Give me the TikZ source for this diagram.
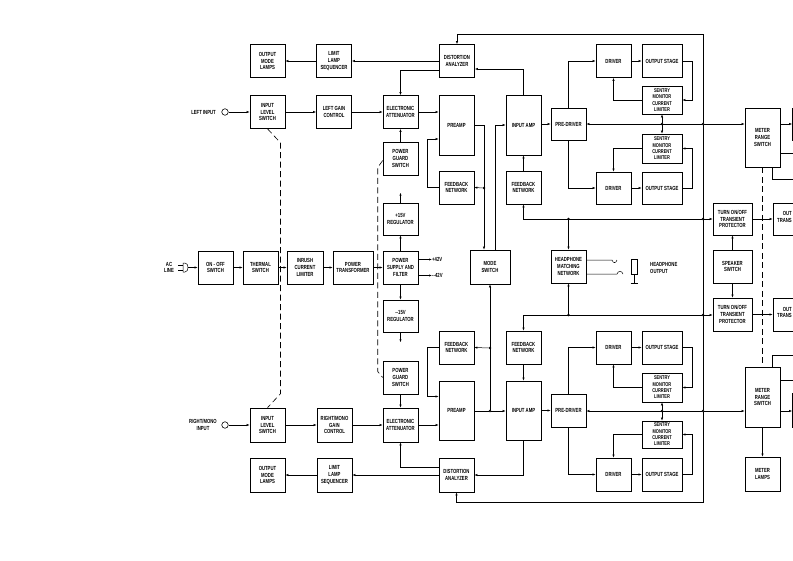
\documentclass[tikz,border=0pt]{standalone}
\usepackage{fontspec}
\newfontfamily\blkfont{Liberation Sans}[FakeStretch=0.72]
\usetikzlibrary{arrows.meta}
\tikzset{
  blk/.style={draw,line width=0.6pt,minimum width=35pt,minimum height=33pt,inner sep=0pt,align=center,
    font=\blkfont\bfseries\fontsize{5.9}{6.8}\selectfont},
  tallblk/.style={blk,minimum height=60pt},
  smblk/.style={blk,minimum width=40pt,minimum height=28pt,font=\blkfont\bfseries\fontsize{5.5}{6.3}\selectfont},
  lbl/.style={inner sep=0pt,align=center,font=\blkfont\bfseries\fontsize{5.9}{6.8}\selectfont},
  sig/.style={-{Latex[length=3pt,width=2.2pt]},line width=0.5pt},
  wire/.style={line width=0.5pt},
  link/.style={dash pattern=on 6pt off 3.5pt,line width=0.6pt},
  jn/.style={circle,fill=black,inner sep=0.9pt},
  jack/.style={circle,draw,line width=0.6pt,inner sep=0pt,minimum size=6.5pt}
}
\begin{document}
\begin{tikzpicture}[x=1pt,y=-1pt]
  \useasboundingbox (0,0) rectangle (793,560);
  \clip (0,0) rectangle (793,560);

  % left channel
  \node[blk] (lampsL) at (267.5,61) {OUTPUT\\MODE\\LAMPS};
  \node[blk] (seqL) at (334,61) {LIMIT\\LAMP\\SEQUENCER};
  \node[blk] (distL) at (457,61) {DISTORTION\\ANALYZER};
  \node[blk] (lvlL) at (267.5,112) {INPUT\\LEVEL\\SWITCH};
  \node[blk] (gainL) at (334,112) {LEFT GAIN\\CONTROL};
  \node[blk] (attL) at (400.5,112) {ELECTRONIC\\ATTENUATOR};
  \node[tallblk] (preL) at (456.5,125) {PREAMP};
  \node[tallblk] (ampL) at (523.5,125) {INPUT AMP};
  \node[blk,minimum height=32pt] (pdrL) at (568.5,124) {PRE-DRIVER};
  \node[blk] (drvA) at (613.5,61) {DRIVER};
  \node[blk,minimum width=40pt] (outA) at (662,61) {OUTPUT STAGE};
  \node[smblk] (sentA) at (662,100) {SENTRY\\MONITOR\\CURRENT\\LIMITER};
  \node[smblk,minimum height=29pt] (sentB) at (662,148.5) {SENTRY\\MONITOR\\CURRENT\\LIMITER};
  \node[blk,minimum height=32pt] (drvB) at (613.5,188) {DRIVER};
  \node[blk,minimum width=40pt,minimum height=32pt] (outB) at (662,188) {OUTPUT STAGE};
  \node[tallblk,minimum height=59pt] (mrsL) at (762.5,137.5) {METER\\RANGE\\SWITCH};
  \node[blk,minimum height=32pt] (nextL) at (810,124) {};
  \node[blk] (guardL) at (400.5,158.5) {POWER\\GUARD\\SWITCH};
  \node[blk] (fbL1) at (456.5,187.5) {FEEDBACK\\NETWORK};
  \node[blk] (fbL2) at (523.5,187.5) {FEEDBACK\\NETWORK};

  % power and centre
  \node[blk,minimum height=32pt] (regP) at (400.5,219) {+15V\\REGULATOR};
  \node[blk,minimum width=39pt,minimum height=32pt] (tpA) at (732.5,219) {TURN ON/OFF\\TRANSIENT\\PROTECTOR};
  \node[blk,minimum width=48pt,minimum height=32pt] (otA) at (797,219) {};
  \node[lbl,anchor=east,align=right] (otAtxt) at (792,217) {OUT\\TRANS};
  \node[blk] (onoff) at (215.5,267.5) {ON - OFF\\SWITCH};
  \node[blk] (therm) at (260.5,267.5) {THERMAL\\SWITCH};
  \node[blk,minimum width=36pt] (inrush) at (305,267.5) {INRUSH\\CURRENT\\LIMITER};
  \node[blk,minimum width=40pt] (xfmr) at (353,267.5) {POWER\\TRANSFORMER};
  \node[blk] (psu) at (400.5,267.5) {POWER\\SUPPLY AND\\FILTER};
  \node[blk,minimum width=40pt,minimum height=34pt] (mode) at (490,267) {MODE\\SWITCH};
  \node[blk] (hpn) at (568.5,266.5) {HEADPHONE\\MATCHING\\NETWORK};
  \node[blk,minimum width=39pt] (spk) at (732.5,266.5) {SPEAKER\\SWITCH};
  \node[blk,minimum height=32pt] (regN) at (400.5,316) {--15V\\REGULATOR};
  \node[blk,minimum width=39pt] (tpB) at (732.5,314.5) {TURN ON/OFF\\TRANSIENT\\PROTECTOR};
  \node[blk,minimum width=48pt] (otB) at (797,314.5) {};
  \node[lbl,anchor=east,align=right] (otBtxt) at (792,312.5) {OUT\\TRANS};

  % right channel
  \node[blk] (guardR) at (400.5,377.5) {POWER\\GUARD\\SWITCH};
  \node[blk] (fbR1) at (456.5,347.5) {FEEDBACK\\NETWORK};
  \node[blk] (fbR2) at (523.5,347.5) {FEEDBACK\\NETWORK};
  \node[blk] (drvC) at (613.5,347.5) {DRIVER};
  \node[blk,minimum width=40pt] (outC) at (662,347.5) {OUTPUT STAGE};
  \node[smblk,minimum height=29pt] (sentC) at (662,387.5) {SENTRY\\MONITOR\\CURRENT\\LIMITER};
  \node[tallblk] (mrsR) at (762.5,397) {METER\\RANGE\\SWITCH};
  \node[blk,minimum height=34pt] (nextR) at (810,410) {};
  \node[tallblk,minimum height=59pt] (preR) at (456.5,410.5) {PREAMP};
  \node[tallblk,minimum height=59pt] (ampR) at (523.5,410.5) {INPUT AMP};
  \node[blk] (pdrR) at (568.5,410.5) {PRE-DRIVER};
  \node[blk,minimum height=34pt] (lvlR) at (267.5,425) {INPUT\\LEVEL\\SWITCH};
  \node[blk,minimum height=34pt] (gainR) at (334.5,425) {RIGHT/MONO\\GAIN\\CONTROL};
  \node[blk,minimum height=34pt] (attR) at (400.5,425) {ELECTRONIC\\ATTENUATOR};
  \node[smblk,minimum height=27pt] (sentD) at (662,434.5) {SENTRY\\MONITOR\\CURRENT\\LIMITER};
  \node[blk,minimum height=34pt] (lampsR) at (267.5,475) {OUTPUT\\MODE\\LAMPS};
  \node[blk,minimum height=34pt] (seqR) at (334.5,475) {LIMIT\\LAMP\\SEQUENCER};
  \node[blk,minimum height=34pt] (distR) at (456.5,475) {DISTORTION\\ANALYZER};
  \node[blk] (drvD) at (613.5,474.5) {DRIVER};
  \node[blk,minimum width=40pt] (outD) at (662,474.5) {OUTPUT STAGE};
  \node[blk,minimum height=34pt] (mlamps) at (762.5,474) {METER\\LAMPS};

  % labels, jacks, junctions
  \node[jack] (cinL) at (225,112) {};
  \node[lbl,anchor=east] (txtL) at (216,112) {LEFT INPUT};
  \node[jack] (cinR) at (225,425) {};
  \node[lbl,anchor=east] (txtR) at (217,425) {RIGHT/MONO\\INPUT};
  \node[lbl] (txtAC) at (169,267.5) {AC\\LINE};
  \node[lbl,anchor=west] (pV) at (432,259.5) {+42V};
  \node[lbl,anchor=west] (nV) at (432,275.5) {--42V};
  \node[lbl,anchor=west,align=left] (txtHP) at (650,268) {HEADPHONE\\OUTPUT};
  \node[draw,line width=0.6pt,minimum width=6pt,minimum height=15pt,inner sep=0pt] (jackHP) at (634,266.5) {};
  \coordinate (plug) at (188,267.5);
  \coordinate (topR) at (703,34);
  \coordinate (botR) at (703,502);
  \node[jn] (jA) at (484,188) {};
  \node[jn] (jB) at (490,411) {};
  \node[jn] (jC) at (490,348) {};
  \node[jn] (jo1) at (703,124) {};
  \node[jn] (jo2) at (703,219) {};
  \node[jn] (jo3) at (703,315) {};
  \node[jn] (jo4) at (703,411) {};
  \node[jn] (jsA) at (662,124) {};
  \node[jn] (jsB) at (662,411) {};
  \node[jn] (jhA) at (568.5,219) {};
  \node[jn] (jhB) at (568.5,315) {};

  % left channel connectors
  \draw[sig] (cinL) -- (lvlL);
  \draw[sig] (lvlL) -- (gainL);
  \draw[sig] (gainL) -- (attL);
  \draw[sig] (attL.east) -- (attL.east -| preL.west);
  \draw[sig] (distL.west) -- (seqL.east);
  \draw[sig] (seqL) -- (lampsL);
  \draw[sig] ([yshift=-9pt]distL.west) -| (attL.north);
  \draw[sig] (ampL.north) |- ([yshift=-8pt]distL.east);
  \draw[sig] (preL.east) -| ([xshift=-6pt]mode.north);
  \draw[sig] (jA) -- (fbL1.east);
  \draw[sig] ([xshift=5pt]mode.north) |- (ampL.west);
  \draw[sig] (fbL1.west) -- ++(-11,0) |- ([yshift=-14pt]preL.west);
  \draw[sig] (fbL2) -- (ampL);
  \draw[sig] (ampL.east |- pdrL.west) -- (pdrL.west);
  \draw[sig] (pdrL.north) |- (drvA.west);
  \draw[sig] (drvA) -- (outA);
  \draw[sig] (outA.east) -- ++(10,0) |- (sentA.east);
  \draw[sig] (sentA.west) -| (drvA.south);
  \draw[sig] (pdrL.south) |- (drvB.west);
  \draw[sig] (drvB) -- (outB);
  \draw[sig] (outB.east) -- ++(10,0) |- (sentB.east);
  \draw[sig] (sentB.west) -| (drvB.north);
  \draw[sig] (jsA) -- (sentA.south);
  \draw[sig] (jsA) -- (sentB.north);

  % output bus
  \draw[sig] (jo1) -- (topR) -| (distL.north);
  \draw[wire] (jo1) -- (jo4);
  \draw[sig] (jo4) -- (botR) -| (distR.south);
  \draw[sig] (jo1) -- (pdrL.east);
  \draw[sig] (jo1) -- (jo1 -| mrsL.west);
  \draw[sig] (jo1 -| mrsL.east) -- (jo1 -| nextL.west);
  \draw[sig] (jo2) -| (fbL2.south);
  \draw[sig] (jhA) -- (hpn.north);
  \draw[sig] (jo2) -- (tpA.west);
  \draw[sig] (tpA) -- (otA);
  \draw[sig] (spk) -- (tpA);
  \draw[sig] (spk) -- (tpB);
  \draw[sig] (jo3) -| (fbR2.north);
  \draw[sig] (jhB) -- (hpn.south);
  \draw[sig] (jo3) -- (jo3 -| tpB.west);
  \draw[sig] (tpB) -- (otB);

  % meters
  \draw[link] (mrsL.south) -- (mrsR.north);
  \draw[wire] ([xshift=10pt]mrsL.south) -- ++(0,12) -- ++(40,0);
  \draw[wire] ([yshift=-15.5pt]mrsL.east) -- ++(20,0);
  \draw[wire] ([xshift=10pt]mrsR.north) -- ++(0,-11) -- ++(40,0);
  \draw[wire] ([yshift=17pt]mrsR.east) -- ++(20,0);
  \draw[sig] (mrsR) -- (mlamps);
  \draw[sig] (jo4 -| mrsR.east) -- (jo4 -| nextR.west);

  % headphone output
  \draw[wire] ([yshift=6.5pt]hpn.east) -- (612,260) .. controls (613,263.5) and (616,263.5) .. (617,260);
  \draw[wire] ([yshift=-7.5pt]hpn.east) -- (617,274) .. controls (618,270.5) and (622,270.5) .. (623,274);
  \draw[wire] (jackHP.south) -- ++(0,9) coordinate (gnd);
  \draw[wire] ([xshift=-3.5pt]gnd) -- ([xshift=3.5pt]gnd);

  % power supply
  \draw[wire] (178,265) -- (183,265) (178,270) -- (183,270);
  \draw[wire] (183,263) -- (185,263) .. controls (189,263) and (189,272) .. (185,272) -- (183,272) -- cycle;
  \draw[sig] (plug) -- (onoff);
  \draw[sig] (onoff) -- (therm);
  \draw[sig] (therm) -- (inrush);
  \draw[sig] (inrush) -- (xfmr);
  \draw[sig] (xfmr) -- (psu);
  \draw[sig] (psu) -- (regP);
  \draw[sig] (psu) -- (regN);
  \draw[sig] ([yshift=8pt]psu.east) -- (pV.west);
  \draw[sig] ([yshift=-8pt]psu.east) -- (nV.west);
  \draw[sig] (regP.north) -- ++(0,-10);
  \draw[sig] (regN.south) -- ++(0,10);
  \draw[sig] (guardL) -- (attL);
  \draw[sig] (guardR) -- (attR);
  \draw[link] ([yshift=-2pt]guardL.west) -- ++(-5,7) -- ([xshift=-5pt,yshift=6pt]guardR.west) -- (guardR.west);
  \draw[link] (lvlL.south) -- ++(13,14) -- ([xshift=13pt,yshift=14pt]lvlR.north) -- (lvlR.north);

  % right channel connectors
  \draw[sig] (cinR) -- (lvlR);
  \draw[sig] (lvlR) -- (gainR);
  \draw[sig] (gainR) -- (attR);
  \draw[sig] (attR.east) -- (attR.east -| preR.west);
  \draw[wire] (preR.east |- jB) -- (jB);
  \draw[sig] (jB) -- (ampR.west |- jB);
  \draw[sig] (jB) -- (mode.south);
  \draw[sig] (jC) -- (fbR1.east);
  \draw[sig] (fbR1.west) -- ++(-11,0) |- ([yshift=14pt]preR.west);
  \draw[sig] (fbR2) -- (ampR);
  \draw[sig] (ampR.east |- pdrR.west) -- (pdrR.west);
  \draw[sig] (pdrR.north) |- (drvC.west);
  \draw[sig] (drvC) -- (outC);
  \draw[sig] (outC.east) -- ++(10,0) |- (sentC.east);
  \draw[sig] (sentC.west) -| (drvC.south);
  \draw[sig] (jsB) -- (sentC.south);
  \draw[sig] (jsB) -- (sentD.north);
  \draw[sig] (jo4) -- (pdrR.east |- jo4);
  \draw[sig] (jo4) -- (mrsR.west |- jo4);
  \draw[sig] (pdrR.south) |- (drvD.west);
  \draw[sig] (drvD) -- (outD);
  \draw[sig] (outD.east) -- ++(10,0) |- (sentD.east);
  \draw[sig] (sentD.west) -| (drvD.north);
  \draw[sig] (ampR.south) |- (distR.east);
  \draw[sig] ([yshift=8pt]distR.west) -| (attR.south);
  \draw[sig] (distR.west) -- (seqR.east);
  \draw[sig] (seqR) -- (lampsR);
\end{tikzpicture}
\end{document}
